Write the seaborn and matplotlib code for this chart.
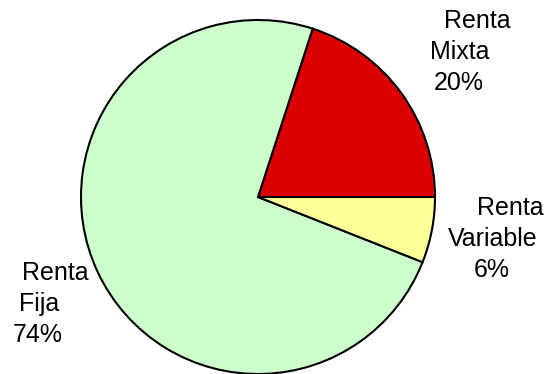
import matplotlib

matplotlib.use('Agg')
import matplotlib.pyplot as plt
import seaborn as sns

# ── data ──────────────────────────────────────────
categories = ['Renta Mixta', 'Renta Fija', 'Renta Variable']
shares = [20, 74, 6]
colors = ['#DD0000', '#CCFFCC', '#FFFF99']

# ── style ─────────────────────────────────────────
sns.set_style('white')
plt.rcParams['font.family'] = ['Liberation Sans', 'DejaVu Sans']

fig = plt.figure(figsize=(5.5, 3.74), dpi=100)
ax = fig.add_axes([0, 0, 1, 1])

ax.pie(shares, colors=colors, startangle=0, counterclock=True,
       center=(258, 177), radius=177,
       wedgeprops=dict(edgecolor='black', linewidth=1.5))

# pie() resets the limits, so set them afterwards
ax.set_xlim(0, 550)
ax.set_ylim(0, 374)
ax.set_aspect('equal')
ax.axis('off')

# label line positions (pixel coords from top): x centre per line, baseline y per line
label_pos = {
    'Renta Mixta': [(477, 28), (460, 59), (459, 90)],
    'Renta Fija': [(55, 280), (39, 311), (38, 342)],
    'Renta Variable': [(510, 215), (493, 246), (492, 277)],
}

for cat, val in zip(categories, shares):
    lines = cat.split(' ') + [f'{val}%']
    for line, (x, y) in zip(lines, label_pos[cat]):
        ax.text(x, 374 - y, line, ha='center', va='baseline', fontsize=18, color='black')

plt.savefig('out.png', dpi=100)
